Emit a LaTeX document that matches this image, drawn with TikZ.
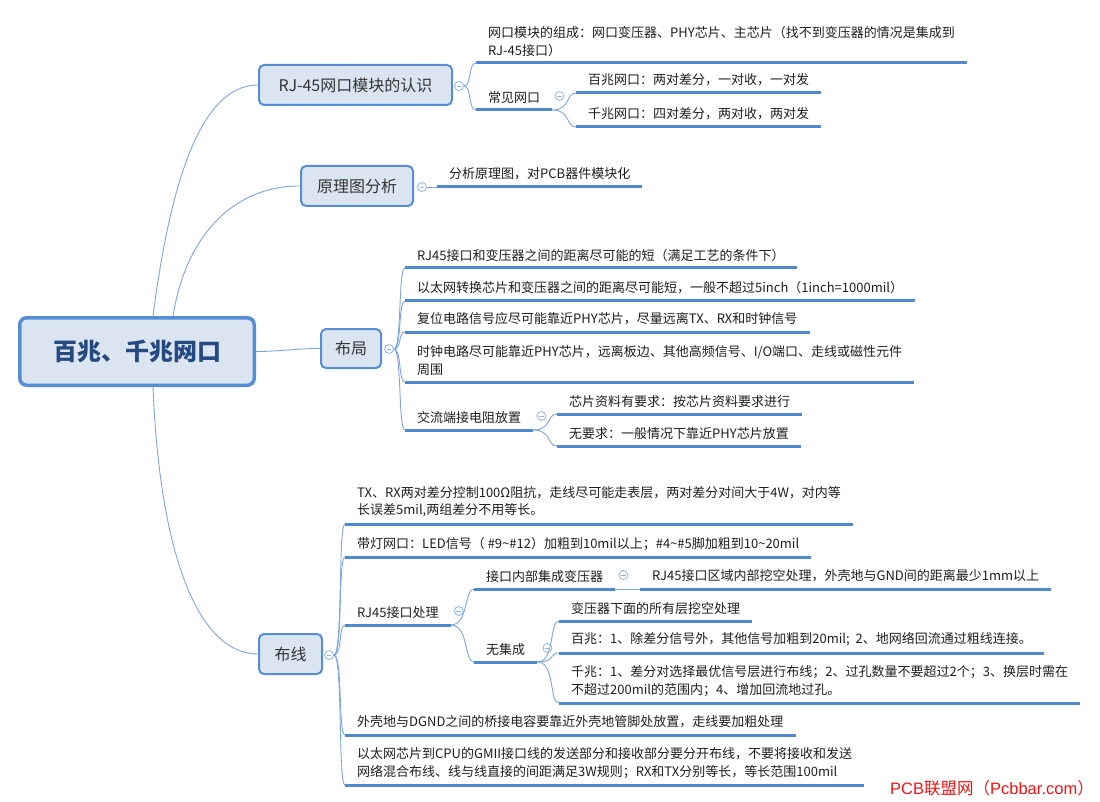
\documentclass[tikz,border=0pt]{standalone}
\usepackage{fontspec}
\setmainfont{Noto Sans CJK SC}
\newfontfamily\wmfont{Liberation Sans}
\definecolor{boxf}{RGB}{219,229,241}
\definecolor{boxc}{RGB}{85,142,213}
\definecolor{ulc}{RGB}{80,137,208}
\definecolor{lnc}{RGB}{126,166,220}
\definecolor{foldc}{RGB}{142,180,227}
\definecolor{leafc}{RGB}{30,30,30}
\definecolor{topicc}{RGB}{51,51,51}
\definecolor{centc}{RGB}{37,74,130}
\definecolor{wmred}{RGB}{240,20,20}
\tikzset{
  leaf/.style={anchor=south west, inner xsep=12pt, inner ysep=6.5pt, align=left,
    text=leafc, font=\fontsize{13}{17.5}\selectfont},
  uline/.style={draw=ulc, line width=3pt},
  conn/.style={draw=lnc, line width=0.9pt},
  topic/.style={draw=boxc, fill=boxf, line width=2pt, rounded corners=5pt,
    text=topicc, font=\fontsize{16}{18}\selectfont, inner sep=0pt},
  central/.style={draw=boxc, fill=boxf, line width=3.5pt, rounded corners=7pt,
    text=centc, font=\fontsize{24}{26}\selectfont\bfseries, inner sep=0pt,
    minimum width=234.5pt, minimum height=67.5pt},
  fold/.style={circle, draw=foldc, fill=white, line width=0.8pt, minimum size=9pt,
    inner sep=0pt, path picture={\draw[foldc, line width=0.8pt]
      ([xshift=-2.4pt]path picture bounding box.center) --
      ([xshift=2.4pt]path picture bounding box.center);}},
}
\newcommand\drawul[1]{\draw[uline] (#1.south west) -- (#1.south east);}
\begin{document}
\begin{tikzpicture}[x=1pt,y=-1pt]
\useasboundingbox (0,0) rectangle (1100,802);

% central and main topics
\node[central] (m) at (137,351.5) {百兆、千兆网口};
\node[topic, minimum width=193pt, minimum height=40pt] (b1) at (355.5,85) {RJ-45网口模块的认识};
\node[topic, minimum width=112pt, minimum height=40pt] (b2) at (357,186) {原理图分析};
\node[topic, minimum width=60pt, minimum height=39pt] (b3) at (351,348.5) {布局};
\node[topic, minimum width=63pt, minimum height=40pt] (b4) at (290.5,654) {布线};

\node[fold] (c1) at (459,86) {};
\node[fold] (c2) at (422,187) {};
\node[fold] (c3) at (389,349) {};
\node[fold] (c4) at (329,655) {};

\draw[conn] ([xshift=16pt]m.north) .. controls (170,185) and (200,85) .. (b1.west);
\draw[conn] ([xshift=36pt]m.north) .. controls (185,240) and (230,186) .. (b2.west);
\draw[conn] (m.east) .. controls +(25,0) and +(-25,0) .. (b3.west);
\draw[conn] ([xshift=16pt]m.south) .. controls (160,560) and (200,654) .. (b4.west);

% RJ-45 branch
\node[leaf] (r1) at (476,63) {网口模块的组成：网口变压器、PHY芯片、主芯片（找不到变压器的情况是集成到\\RJ-45接口）};
\node[leaf] (r2) at (476,110) {常见网口};
\node[leaf] (r2a) at (576,93) {百兆网口：两对差分，一对收，一对发};
\node[leaf] (r2b) at (576,127) {千兆网口：四对差分，两对收，两对发};
\node[fold] (f1) at ([xshift=7pt,yshift=14pt]r2.south east) {};
\draw[conn] (c1.east) .. controls +(8,0) and +(-8,0) .. (r1.south west);
\draw[conn] (c1.east) .. controls +(8,0) and +(-8,0) .. (r2.south west);
\draw[conn] (r2.south east) .. controls +(18,0) and +(-10,0) .. (r2a.south west);
\draw[conn] (r2.south east) .. controls +(18,0) and +(-10,0) .. (r2b.south west);
\drawul{r1}\drawul{r2}\drawul{r2a}\drawul{r2b}

% 原理图分析
\node[leaf] (y1) at (437,187) {分析原理图，对PCB器件模块化};
\draw[conn] (c2.east) -- (y1.south west);
\drawul{y1}

% 布局
\node[leaf] (l1) at (405,268) {RJ45接口和变压器之间的距离尽可能的短（满足工艺的条件下）};
\node[leaf] (l2) at (405,301) {以太网转换芯片和变压器之间的距离尽可能短，一般不超过5inch（1inch=1000mil）};
\node[leaf] (l3) at (405,332) {复位电路信号应尽可能靠近PHY芯片，尽量远离TX、RX和时钟信号};
\node[leaf] (l4) at (405,382) {时钟电路尽可能靠近PHY芯片，远离板边、其他高频信号、I/O端口、走线或磁性元件\\周围};
\node[leaf] (l5) at (405,430) {交流端接电阻放置};
\node[leaf] (l5a) at (557,414) {芯片资料有要求：按芯片资料要求进行};
\node[leaf] (l5b) at (557,446) {无要求：一般情况下靠近PHY芯片放置};
\node[fold] (f2) at ([xshift=8pt,yshift=14pt]l5.south east) {};
\foreach \n in {l1,l2,l3,l4,l5}
  \draw[conn] (c3.east) .. controls +(8,0) and +(-7,0) .. (\n.south west);
\draw[conn] (l5.south east) .. controls +(18,0) and +(-10,0) .. (l5a.south west);
\draw[conn] (l5.south east) .. controls +(18,0) and +(-10,0) .. (l5b.south west);
\drawul{l1}\drawul{l2}\drawul{l3}\drawul{l4}\drawul{l5}\drawul{l5a}\drawul{l5b}

% 布线
\node[leaf] (w1) at (345,524) {TX、RX两对差分控制100Ω阻抗，走线尽可能走表层，两对差分对间大于4W，对内等\\长误差5mil,两组差分不用等长。};
\node[leaf] (w2) at (345,557) {带灯网口：LED信号（ \#9\textasciitilde\#12）加粗到10mil以上；\#4\textasciitilde\#5脚加粗到10\textasciitilde20mil};
\node[leaf] (w3) at (345,625) {RJ45接口处理};
\node[leaf] (w3a) at (474,589) {接口内部集成变压器};
\node[leaf] (w3a1) at (640,589) {RJ45接口区域内部挖空处理，外壳地与GND间的距离最少1mm以上};
\node[leaf] (w3b) at (474,662) {无集成};
\node[leaf] (w3b1) at (559,621) {变压器下面的所有层挖空处理};
\node[leaf] (w3b2) at (559,653) {百兆：1、除差分信号外，其他信号加粗到20mil;\ \ 2、地网络回流通过粗线连接。};
\node[leaf] (w3b3) at (559,703) {千兆：1、差分对选择最优信号层进行布线；2、过孔数量不要超过2个；3、换层时需在\\不超过200mil的范围内；4、增加回流地过孔。};
\node[leaf] (w4) at (345,735) {外壳地与DGND之间的桥接电容要靠近外壳地管脚处放置，走线要加粗处理};
\node[leaf] (w5) at (345,785) {以太网芯片到CPU的GMII接口线的发送部分和接收部分要分开布线，不要将接收和发送\\网络混合布线、线与线直接的间距满足3W规则；RX和TX分别等长，等长范围100mil};
\node[fold] (f3) at ([xshift=8pt,yshift=14pt]w3.south east) {};
\node[fold] (f4) at ([xshift=8pt,yshift=14pt]w3a.south east) {};
\node[fold] (f5) at ([xshift=10pt,yshift=14pt]w3b.south east) {};
\foreach \n in {w1,w2,w3,w4,w5}
  \draw[conn] (c4.east) .. controls +(9,0) and +(-7,0) .. (\n.south west);
\draw[conn] (w3.south east) .. controls +(18,0) and +(-10,0) .. (w3a.south west);
\draw[conn] (w3.south east) .. controls +(18,0) and +(-10,0) .. (w3b.south west);
\draw[conn] (w3a.south east) -- (w3a1.south west);
\foreach \n in {w3b1,w3b2,w3b3}
  \draw[conn] (w3b.south east) .. controls +(18,0) and +(-10,0) .. (\n.south west);
\drawul{w1}\drawul{w2}\drawul{w3}\drawul{w3a}\drawul{w3a1}\drawul{w3b}
\drawul{w3b1}\drawul{w3b2}\drawul{w3b3}\drawul{w4}\drawul{w5}

% watermark
\node[anchor=west, inner sep=0pt, text=wmred, font=\fontsize{16.5}{19}\selectfont] (wm) at (890,788)
  {\wmfont PCB{\rmfamily 联盟网（}Pcbbar.com{\rmfamily ）}};
\end{tikzpicture}
\end{document}
